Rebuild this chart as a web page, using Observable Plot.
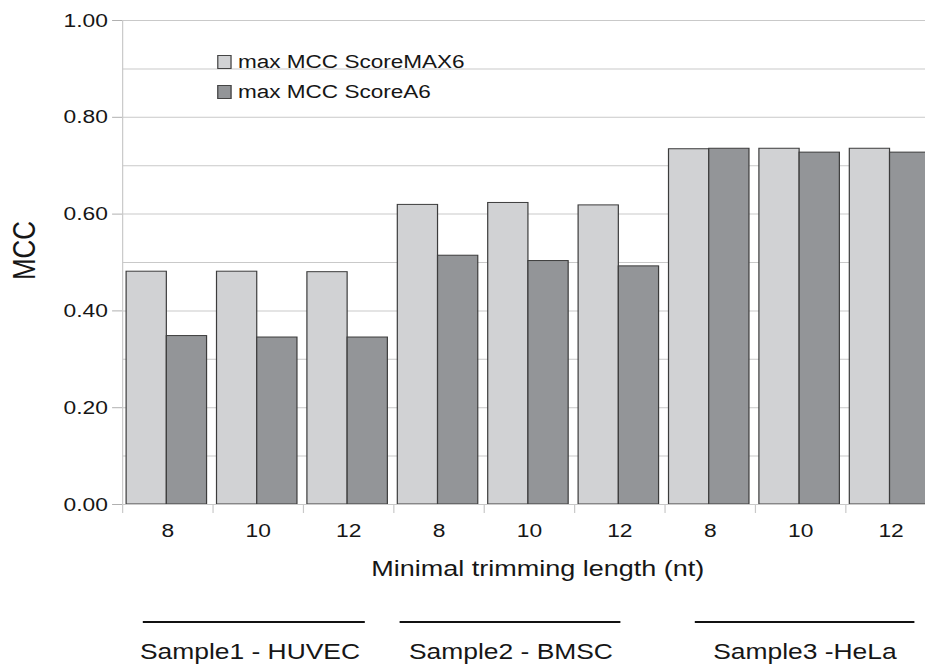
<!DOCTYPE html>
<html><head><meta charset="utf-8">
<script src="https://cdn.jsdelivr.net/npm/d3@7"></script>
<script src="https://cdn.jsdelivr.net/npm/@observablehq/plot@0.6"></script>
<style>
html,body{margin:0;padding:0;background:#fff;overflow:hidden;width:925px;height:668px}
#wrap{position:relative;width:782px;height:668px;transform:scaleX(1.2);transform-origin:0 0;font-family:"Liberation Sans",Arial,sans-serif;color:#161616}
#wrap svg{position:absolute;left:0;top:0;overflow:visible}
.leg{position:absolute;left:180.8px;font-size:18.8px;line-height:20px;white-space:nowrap}
.leg span.sw{position:absolute;left:0;top:3px;width:10px;height:12px;border:1px solid #444;box-sizing:content-box}
.leg span.tx{position:absolute;left:17.5px;top:0}
.grp{position:absolute;font-size:22px;white-space:nowrap}
.grpline{position:absolute;top:621px;height:2px;background:#111}
</style></head>
<body><div id="wrap"></div>
<script>
// ---- data ----
const samples = ["Sample1 - HUVEC", "Sample2 - BMSC", "Sample3 -HeLa"];
const lengths = [8, 10, 12];
const seriesNames = ["max MCC ScoreMAX6", "max MCC ScoreA6"];
const scoreMAX6 = [0.481, 0.481, 0.480, 0.619, 0.623, 0.618, 0.734, 0.735, 0.735];
const scoreA6   = [0.348, 0.345, 0.345, 0.514, 0.503, 0.492, 0.735, 0.727, 0.727];
const yTicks = [0, 0.2, 0.4, 0.6, 0.8, 1.0];
const xTitle = "Minimal trimming length (nt)";
const yTitle = "MCC";

// ---- layout / style ----
const colors = ["#d1d2d4", "#939598"];
const barStroke = "#3c3c3c";
const gridColor = "#c9c9c9";
const font = "'Liberation Sans', Arial, sans-serif";

const rows = scoreMAX6.map((v, i) => ({
  i,
  sample: samples[Math.floor(i / 3)],
  length: lengths[i % 3],
  max6: v,
  a6: scoreA6[i]
}));
const centers = rows.map(d => d.i + 0.5);
const bounds = d3.range(0, rows.length + 1);
const gridVals = d3.ticks(0, 1, 10).filter(v => v > 0);

const chart = Plot.plot({
  width: 782,
  height: 668,
  marginTop: 20,
  marginBottom: 164,
  marginLeft: 101.7,
  marginRight: 2.3,
  style: {fontFamily: font, background: "transparent", color: "#161616"},
  x: {domain: [0, rows.length]},
  y: {domain: [0, 1]},
  marks: [
    Plot.ruleY(gridVals, {stroke: gridColor, strokeWidth: 1}),
    Plot.ruleX([0], {stroke: gridColor, strokeWidth: 1}),
    Plot.rect(rows, {x1: d => d.i + 0.045, x2: d => d.i + 0.49, y1: 0, y2: "max6", fill: colors[0], stroke: barStroke, strokeWidth: 1}),
    Plot.rect(rows, {x1: d => d.i + 0.49, x2: d => d.i + 0.935, y1: 0, y2: "a6", fill: colors[1], stroke: barStroke, strokeWidth: 1}),
    Plot.ruleY([0], {stroke: gridColor}),
    Plot.axisY({ticks: yTicks, tickFormat: d => d.toFixed(2), tickSize: 8.3, tickPadding: 4, fontSize: 19, stroke: "#b0b0b0", fill: "#161616", label: null}),
    Plot.axisX({ticks: bounds, tickFormat: () => "", tickSize: 9, stroke: gridColor, label: null}),
    Plot.axisX({ticks: centers, tickFormat: d => String(lengths[Math.floor(d) % 3]), tickSize: 0, tickPadding: 19, fontSize: 19, fill: "#161616", label: null}),
    Plot.text([xTitle], {frameAnchor: "bottom", dx: 7, dy: 71, fontSize: 22.5, fill: "#161616"}),
    Plot.text([yTitle], {frameAnchor: "left", textAnchor: "middle", dx: -81.7, dy: -12, rotate: -90, fontSize: 26, fill: "#161616"})
  ]
});
const wrap = document.getElementById("wrap");
wrap.appendChild(chart);

// legend
seriesNames.forEach((name, k) => {
  const d = document.createElement("div");
  d.className = "leg";
  d.style.top = (52 + k * 30) + "px";
  d.innerHTML = `<span class="sw" style="background:${colors[k]}"></span><span class="tx">${name}</span>`;
  wrap.appendChild(d);
});

// group annotations (layout in container px)
const groupLayout = [
  {x1: 119.2, x2: 304.2, cx: 208.3},
  {x1: 333.3, x2: 516.7, cx: 425.8},
  {x1: 579.2, x2: 762.5, cx: 670.8}
];
samples.forEach((s, k) => {
  const g = groupLayout[k];
  const ln = document.createElement("div");
  ln.className = "grpline";
  ln.style.left = g.x1 + "px";
  ln.style.width = (g.x2 - g.x1) + "px";
  wrap.appendChild(ln);
  const t = document.createElement("div");
  t.className = "grp";
  t.textContent = s;
  t.style.top = "639px";
  t.style.left = g.cx + "px";
  t.style.transform = "translateX(-50%)";
  wrap.appendChild(t);
});
</script>
</body></html>
